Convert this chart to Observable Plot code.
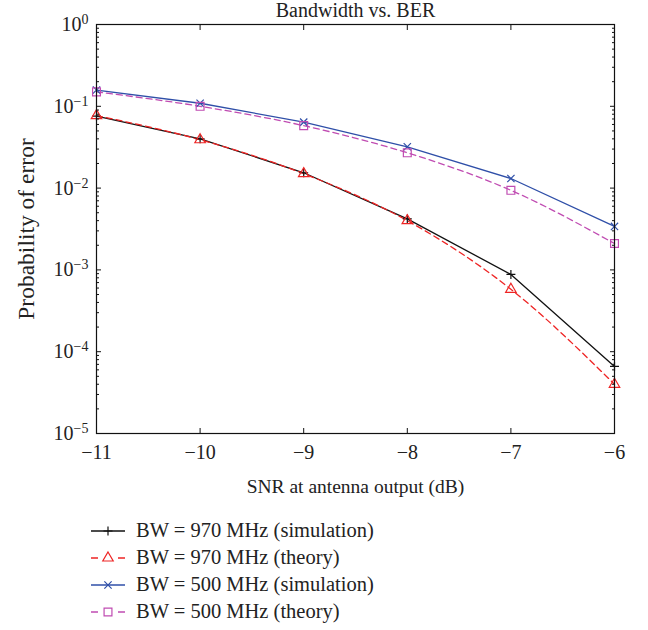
<!DOCTYPE html>
<html>
<head>
<meta charset="utf-8">
<script src="https://cdn.jsdelivr.net/npm/d3@7"></script>
<script src="https://cdn.jsdelivr.net/npm/@observablehq/plot@0.6"></script>
<style>
  html, body { margin: 0; padding: 0; background: #fff; }
  #wrap { position: relative; width: 648px; height: 630px; overflow: hidden; font-family: "Liberation Serif", "Times New Roman", serif; }
  #legend { position: absolute; left: 90px; top: 517px; }
  .row { display: flex; align-items: center; height: 27px; font-size: 20.5px; color: #222; }
  .row svg { flex: none; margin-right: 10px; }
</style>
</head>
<body>
<div id="wrap">
  <div id="chart"></div>
  <div id="legend"></div>
</div>
<script>
// ---- data ----
const snr = [-11, -10, -9, -8, -7, -6];
const ber970Sim    = [0.076, 0.040, 0.0154, 0.0042, 0.00088, 0.000066];
const ber970Theory = [0.077, 0.039, 0.0150, 0.0040, 0.00058, 0.000040];
const ber500Sim    = [0.158, 0.109, 0.064, 0.032, 0.0131, 0.0034];
const ber500Theory = [0.150, 0.100, 0.058, 0.027, 0.0094, 0.0021];
const seriesNames = [
  "BW = 970 MHz (simulation)",
  "BW = 970 MHz (theory)",
  "BW = 500 MHz (simulation)",
  "BW = 500 MHz (theory)"
];
const xTicks = [-11, -10, -9, -8, -7, -6];
const yMajor = [1, 1e-1, 1e-2, 1e-3, 1e-4, 1e-5];
const titleText = "Bandwidth vs. BER";
const xLabel = "SNR at antenna output (dB)";
const yLabel = "Probability of error";

// ---- styles ----
const styles = [
  {stroke: "#111111", dash: null,  symbol: "plus",      r: 3.0},
  {stroke: "#ee2424", dash: "6,4", symbol: "triangle2", r: 5.0},
  {stroke: "#2f4fa8", dash: null,  symbol: "times",     r: 3.4},
  {stroke: "#c04cb2", dash: "6,4", symbol: "square2",   r: 5.0}
];
const allSeries = [ber970Sim, ber970Theory, ber500Sim, ber500Theory];
const data = allSeries.map((vals, i) => snr.map((x, j) => ({snr: x, ber: vals[j], series: seriesNames[i]})));

const yMinor = [];
for (let e = -5; e < 0; e++) for (let m = 2; m <= 9; m++) yMinor.push(m * Math.pow(10, e));

const fmtX = d => String(d).replace("-", "\u2212");

const marks = [];
data.forEach((rows, i) => {
  const s = styles[i];
  marks.push(Plot.line(rows, {
    x: "snr", y: "ber", stroke: s.stroke, strokeWidth: 1.3,
    strokeDasharray: s.dash || undefined,
    curve: s.dash ? "monotone-x" : "linear"
  }));
});
data.forEach((rows, i) => {
  const s = styles[i];
  marks.push(Plot.dot(rows, {
    x: "snr", y: "ber", symbol: () => s.symbol, r: s.r,
    stroke: s.stroke, fill: "none", strokeWidth: 1.2
  }));
});

const tickOnly = {tickFormat: null, label: null, stroke: "#111", fill: "none"};

const chart = Plot.plot({
  width: 648,
  height: 505,
  marginTop: 24,
  marginLeft: 96,
  marginRight: 34,
  marginBottom: 72,
  style: {fontFamily: "Liberation Serif, Times New Roman, serif", fontSize: "20px", color: "#222", background: "#fff", overflow: "visible"},
  symbol: {type: "identity"},
  x: {domain: [-11, -6], axis: null},
  y: {type: "log", domain: [1e-5, 1], axis: null},
  marks: [
    ...marks,
    Plot.frame({stroke: "#111", strokeWidth: 1.2}),
    // inward major/minor ticks (no text)
    Plot.axisX(xTicks, {anchor: "bottom", tickSize: -5, ...tickOnly}),
    Plot.axisX(xTicks, {anchor: "top", tickSize: -5, ...tickOnly}),
    Plot.axisY(yMajor, {anchor: "left", tickSize: -5, ...tickOnly}),
    Plot.axisY(yMajor, {anchor: "right", tickSize: -5, ...tickOnly}),
    Plot.axisY(yMinor, {anchor: "left", tickSize: -3, ...tickOnly}),
    Plot.axisY(yMinor, {anchor: "right", tickSize: -3, ...tickOnly}),
    // tick labels (no tick marks)
    Plot.axisX(xTicks, {anchor: "bottom", tickSize: 0, tickPadding: 11, tickFormat: fmtX, label: null, fontSize: 20, fill: "#222"}),
    Plot.axisY(yMajor, {anchor: "left", tickSize: 0, tickPadding: 8, tickFormat: d => String(Math.round(Math.log10(d))), label: null, fontSize: 20, fill: "#222"}),
    // title and axis labels
    Plot.text([titleText], {text: d => d, frameAnchor: "top", dy: -8, lineAnchor: "bottom", textAnchor: "middle", fontSize: 20, fill: "#222"}),
    Plot.text([xLabel], {text: d => d, frameAnchor: "bottom", dy: 59, lineAnchor: "bottom", textAnchor: "middle", fontSize: 19.5, fill: "#222"}),
    Plot.text([yLabel], {text: d => d, frameAnchor: "left", rotate: -90, dx: -63, dy: 0, lineAnchor: "bottom", textAnchor: "middle", fontSize: 23.5, fill: "#222"})
  ]
});
document.getElementById("chart").appendChild(chart);

// turn the y tick labels into 10^k with a real superscript
d3.select(chart).selectAll('g[aria-label="y-axis tick label"] text').each(function() {
  const t = d3.select(this);
  const e = t.text().replace("-", "\u2212");
  t.text("");
  t.append("tspan").text("10");
  t.append("tspan").attr("dy", "-0.5em").attr("font-size", "0.7em").text(e);
});

// legend below the chart
const legend = d3.select("#legend");
styles.forEach((s, i) => {
  const row = legend.append("div").attr("class", "row");
  const svg = row.append("svg").attr("width", 36).attr("height", 20);
  svg.append("line").attr("x1", 1).attr("x2", 35).attr("y1", 10).attr("y2", 10)
    .attr("stroke", s.stroke).attr("stroke-width", 1.3)
    .attr("stroke-dasharray", s.dash ? "7,20" : null);
  const sym = {plus: d3.symbolPlus, triangle2: d3.symbolTriangle2, times: d3.symbolTimes, square2: d3.symbolSquare2}[s.symbol];
  svg.append("path").attr("transform", "translate(18,10)")
    .attr("d", d3.symbol(sym, s.r * s.r * Math.PI)())
    .attr("fill", "none").attr("stroke", s.stroke).attr("stroke-width", 1.2);
  row.append("span").text(seriesNames[i]);
});
</script>
</body>
</html>
